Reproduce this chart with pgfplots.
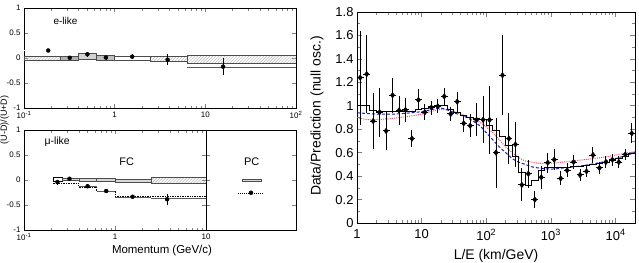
\documentclass[border=0pt]{standalone}
\usepackage{fontspec}
\setmainfont{Liberation Sans}
\usepackage{pgfplots}
\usepackage{pgfplotstable}
\pgfplotsset{compat=1.18}
\usetikzlibrary{patterns}
\definecolor{bl}{RGB}{25,25,200}
\definecolor{rd}{RGB}{235,70,110}

\pgfplotstableread{
x y e
1.122 1.24 0.40
1.413 1.27 0.33
1.778 0.87 0.24
2.239 0.945 0.21
2.818 0.785 0.16
3.548 1.09 0.15
4.467 0.96 0.12
5.623 0.965 0.10
7.079 0.72 0.07
8.913 1.05 0.09
11.22 0.945 0.07
14.13 0.985 0.06
17.78 0.995 0.06
22.39 1.08 0.07
28.18 0.93 0.06
35.48 1.035 0.085
44.67 0.85 0.07
56.23 0.83 0.10
70.79 0.88 0.14
89.13 0.88 0.20
112.2 0.88 0.29
141.3 0.60 0.30
177.8 1.26 0.34
223.9 0.72 0.22
281.8 0.67 0.19
354.8 0.325 0.14
446.7 0.42 0.12
562.3 0.20 0.07
707.9 0.39 0.10
891.3 0.515 0.085
1122 0.54 0.09
1413 0.38 0.06
1778 0.45 0.06
2239 0.52 0.06
2818 0.41 0.05
3548 0.44 0.05
4467 0.58 0.065
5623 0.47 0.05
7079 0.52 0.05
8913 0.54 0.05
11220 0.52 0.05
14130 0.585 0.05
17780 0.765 0.085
}\dataLE

\pgfplotstableread{
x y
1 1.00
1.2589 1.00
1.5849 0.96
1.9953 0.95
2.5119 0.95
3.1623 0.95
3.9811 0.95
5.0119 0.95
6.3096 0.95
7.9433 0.97
10 0.98
12.589 0.99
15.849 1.00
19.953 1.00
25.119 0.97
31.623 0.94
39.811 0.92
50.119 0.90
63.096 0.89
79.433 0.88
100 0.83
125.89 0.79
158.49 0.74
199.53 0.66
251.19 0.57
316.23 0.43
398.11 0.32
501.19 0.36
630.96 0.45
794.33 0.47
1000 0.47
1258.9 0.47
1584.9 0.47
1995.3 0.48
2511.9 0.48
3162.3 0.49
3981.1 0.50
5011.9 0.51
6309.6 0.52
7943.3 0.53
10000 0.55
12589 0.57
15849 0.59
19953 0.59
}\fitLE

\pgfplotstableread{
x y
1 0.94
1.995 0.93
3.981 0.93
10 0.95
19.95 0.98
31.62 0.94
50.12 0.90
79.43 0.83
100 0.77
125.9 0.71
158.5 0.65
199.5 0.60
251.2 0.55
316.2 0.52
398.1 0.50
501.2 0.48
631 0.47
1000 0.46
1585 0.47
3162 0.49
6310 0.52
10000 0.55
19953 0.60
}\blueLE

\pgfplotstableread{
x y
1 0.90
1.585 0.88
3.162 0.89
6.31 0.91
10 0.93
19.95 0.97
31.62 0.95
50.12 0.91
79.43 0.86
100 0.82
125.9 0.77
158.5 0.71
199.5 0.65
251.2 0.60
316.2 0.56
398.1 0.53
501.2 0.52
631 0.51
1000 0.51
1585 0.52
3162 0.54
6310 0.56
10000 0.58
19953 0.61
}\redLE

\pgfplotsset{
  leftp/.style={scale only axis, height=100bp, ymin=-1, ymax=1,
    ytick={-1,-0.5,0,0.5,1}, yticklabels={-1,-0.5,0,0.5,1},
    tick align=inside, ticklabel style={font=\fontsize{8}{9}\selectfont},
    major tick length=4bp, minor tick length=2.5bp,
    axis line style={line width=0.7pt}, tick style={line width=0.5pt},
    clip=true},
  hbox/.style={draw=gray!60!black, line width=0.5pt},
}

\begin{document}
\begin{tikzpicture}
\useasboundingbox (0,0) rectangle (639bp,-263bp);

% ---------- e-like ----------
\begin{axis}[leftp, at={(24bp,-108bp)}, anchor=south west, width=272bp,
  xmode=log, xmin=0.1, xmax=100,
  xtick={0.1,1,10,100}, xticklabels={10\textsuperscript{-1},1,10,10\textsuperscript{2}},
  minor xtick={0.2,0.3,0.4,0.5,0.6,0.7,0.8,0.9,2,3,4,5,6,7,8,9,20,30,40,50,60,70,80,90}]
\addplot[hbox, pattern=north east lines, pattern color=gray!70] coordinates {(0.1,-0.04) (0.25,-0.04) (0.25,0.027) (0.1,0.027) (0.1,-0.04)};
\addplot[hbox, fill=gray!60] coordinates {(0.25,-0.04) (0.4,-0.04) (0.4,0.027) (0.25,0.027) (0.25,-0.04)};
\addplot[hbox, fill=gray!35] coordinates {(0.4,-0.027) (0.63,-0.027) (0.63,0.09) (0.4,0.09) (0.4,-0.027)};
\addplot[hbox, fill=gray!50] coordinates {(0.63,-0.04) (1,-0.04) (1,0.055) (0.63,0.055) (0.63,-0.04)};
\addplot[hbox, fill=white] coordinates {(1,-0.04) (2.5,-0.04) (2.5,0.04) (1,0.04) (1,-0.04)};
\addplot[hbox, pattern=north east lines, pattern color=gray!70] coordinates {(2.5,-0.073) (6.3,-0.073) (6.3,0.03) (2.5,0.03) (2.5,-0.073)};
\addplot[hbox, pattern=north east lines, pattern color=gray!60] coordinates {(6.3,-0.107) (100,-0.107) (100,0.06) (6.3,0.06) (6.3,-0.107)};
\addplot[gray!70!black, line width=0.5pt, double=white, double distance=0.5pt] coordinates {(0.1,0.15) (0.25,0.15)};
\addplot[gray!70!black, line width=0.5pt, double=white, double distance=0.6pt] coordinates {(6.3,-0.175) (100,-0.175)};
\addplot[only marks, mark=*, mark size=2bp, black,
  error bars/.cd, y dir=both, y explicit, error mark=none,
  error bar style={line width=0.7pt}] coordinates {
  (0.185,0.15) +- (0,0.03)
  (0.32,0.005) +- (0,0.03)
  (0.50,0.075) +- (0,0.05)
  (0.80,0.01) +- (0,0.04)
  (1.56,0.027) +- (0,0.05)
  (3.84,-0.035) +- (0,0.11)
  (15.7,-0.173) +- (0,0.17)};
\end{axis}
\node[anchor=west, font=\fontsize{10}{12}\selectfont] at (50bp,-20.5bp) {e-like};

% ---------- mu-like FC ----------
\begin{axis}[leftp, at={(24bp,-230bp)}, anchor=south west, width=182bp,
  xmode=log, xmin=0.1, xmax=10,
  xtick={0.1,1,10}, xticklabels={10\textsuperscript{-1},1,10},
  minor xtick={0.2,0.3,0.4,0.5,0.6,0.7,0.8,0.9,2,3,4,5,6,7,8,9}]
\addplot[black, line width=0.5pt, fill=white] coordinates {(0.21,-0.03) (0.26,-0.03) (0.26,0.06) (0.21,0.06) (0.21,-0.03)};
\addplot[hbox, fill=gray!30] coordinates {(0.26,-0.01) (0.4,-0.01) (0.4,0.035) (0.26,0.035) (0.26,-0.01)};
\addplot[hbox, fill=gray!30] coordinates {(0.4,-0.02) (0.63,-0.02) (0.63,0.035) (0.4,0.035) (0.4,-0.02)};
\addplot[hbox, fill=gray!30] coordinates {(0.63,-0.025) (1,-0.025) (1,0.03) (0.63,0.03) (0.63,-0.025)};
\addplot[hbox, fill=gray!30] coordinates {(1,-0.04) (2.5,-0.04) (2.5,0.02) (1,0.02) (1,-0.04)};
\addplot[hbox, pattern=north east lines, pattern color=gray!70] coordinates {(2.5,-0.06) (10,-0.06) (10,0.055) (2.5,0.055) (2.5,-0.06)};
\addplot[const plot, black, dash pattern=on 1.5pt off 1pt, line width=0.6pt] coordinates {(0.21,-0.06) (0.4,-0.14) (0.63,-0.235) (1,-0.325) (2.5,-0.325) (10,-0.325)};
\addplot[gray!70!black, line width=0.5pt] coordinates {(0.4,-0.125) (0.63,-0.125)};
\addplot[gray!70!black, line width=0.5pt] coordinates {(0.63,-0.22) (1,-0.22)};
\addplot[gray!70!black, line width=0.5pt] coordinates {(1,-0.335) (2.5,-0.335)};
\addplot[gray!70!black, line width=0.5pt, double=white, double distance=0.6pt] coordinates {(2.5,-0.385) (10,-0.385)};
\addplot[only marks, mark=*, mark size=2bp, black,
  error bars/.cd, y dir=both, y explicit, error mark=none,
  error bar style={line width=0.7pt}] coordinates {
  (0.233,-0.04) +- (0,0.05)
  (0.316,0.025) +- (0,0.04)
  (0.50,-0.125) +- (0,0.04)
  (0.80,-0.22) +- (0,0.04)
  (1.56,-0.335) +- (0,0.04)
  (3.74,-0.385) +- (0,0.11)};
\end{axis}

% ---------- mu-like PC ----------
\begin{axis}[leftp, at={(206bp,-230bp)}, anchor=south west, width=90bp,
  xmin=0, xmax=1, xtick=\empty, yticklabels={}]
\addplot[hbox, fill=gray!30] coordinates {(0.4,-0.03) (0.61,-0.03) (0.61,0.02) (0.4,0.02) (0.4,-0.03)};
\addplot[black, dash pattern=on 1pt off 1pt, line width=0.6pt] coordinates {(0.36,-0.27) (0.64,-0.27)};
\addplot[only marks, mark=*, mark size=2bp, black,
  error bars/.cd, y dir=both, y explicit, error mark=none,
  error bar style={line width=0.7pt}] coordinates {(0.5,-0.255) +- (0,0.035)};
\end{axis}
\node[anchor=west, font=\fontsize{10.5}{12}\selectfont] at (41bp,-141.7bp) {μ-like};
\node[font=\fontsize{11}{13}\selectfont] at (126.7bp,-161.7bp) {FC};
\node[font=\fontsize{11}{13}\selectfont] at (251.7bp,-162bp) {PC};
\node[font=\fontsize{11.5}{13}\selectfont] at (162bp,-250.5bp) {Momentum (GeV/c)};
\node[rotate=90, font=\fontsize{9}{10}\selectfont, inner sep=0pt] at (4.5bp,-120bp) {(U-D)/(U+D)};

% ---------- L/E ----------
\begin{axis}[scale only axis, at={(357bp,-223bp)}, anchor=south west,
  width=278bp, height=211bp,
  xmode=log, xmin=1, xmax=19953, ymin=0, ymax=1.8,
  xtick={1,10,100,1000,10000},
  xticklabels={1,10,10\textsuperscript{2},10\textsuperscript{3},10\textsuperscript{4}},
  minor xtick={2,3,4,5,6,7,8,9,20,30,40,50,60,70,80,90,200,300,400,500,600,700,800,900,2000,3000,4000,5000,6000,7000,8000,9000},
  ytick={0,0.2,0.4,0.6,0.8,1,1.2,1.4,1.6,1.8},
  yticklabels={0,0.2,0.4,0.6,0.8,1,1.2,1.4,1.6,1.8},
  minor y tick num=1,
  tick align=inside, major tick length=5bp, minor tick length=3bp,
  ticklabel style={font=\fontsize{13}{15}\selectfont},
  xticklabel style={yshift=-3bp},
  axis line style={line width=0.8pt}, tick style={line width=0.6pt}]
\addplot[rd, line width=1pt, dash pattern=on 1pt off 1.2pt, smooth] table[x=x,y=y] {\redLE};
\addplot[bl, line width=1pt, dash pattern=on 3pt off 2pt, smooth] table[x=x,y=y] {\blueLE};
\addplot[const plot, black, line width=1pt] table[x=x,y=y] {\fitLE};
\addplot[only marks, mark=diamond*, mark size=2.8bp, black,
  error bars/.cd, y dir=both, y explicit, error mark=none,
  error bar style={line width=1pt}] table[x=x,y=y,y error=e] {\dataLE};
\addplot[only marks, mark=-, mark size=3.5bp, black, mark options={line width=1pt}] table[x=x,y=y] {\dataLE};
\end{axis}
\node[font=\fontsize{14}{16}\selectfont] at (496bp,-256bp) {L/E (km/GeV)};
\node[rotate=90, font=\fontsize{14}{16}\selectfont] at (317bp,-116bp) {Data/Prediction (null osc.)};
\end{tikzpicture}
\end{document}
